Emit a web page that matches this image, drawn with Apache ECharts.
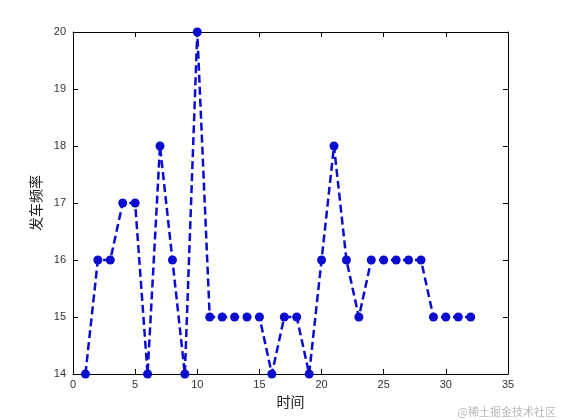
<!DOCTYPE html>
<html><head><meta charset="utf-8">
<script src="https://cdn.jsdelivr.net/npm/echarts@6/dist/echarts.min.js"></script>
<style>html,body{margin:0;padding:0;background:#fff}#c{width:561px;height:420px}</style>
</head><body><div id="c"></div>
<script>
const times = [1,2,3,4,5,6,7,8,9,10,11,12,13,14,15,16,17,18,19,20,21,22,23,24,25,26,27,28,29,30,31,32];
const freq = [14,16,16,17,17,14,18,16,14,20,15,15,15,15,15,14,15,15,14,16,18,16,15,16,16,16,16,16,15,15,15,15];
const xLabel = '时间';
const yLabel = '发车频率';
const watermark = '@稀土掘金技术社区';

const font = '"Liberation Sans", Arial, sans-serif';
const cjk = '"Noto Sans CJK SC", sans-serif';
const axisCommon = {
  axisLine:{show:true,onZero:false,lineStyle:{color:'#000',width:1}},
  axisTick:{show:true,inside:true,length:5,lineStyle:{color:'#000'}},
  splitLine:{show:false}
};
const chart = echarts.init(document.getElementById('c'));
chart.setOption({
  animation:false,
  backgroundColor:'#fff',
  grid:{left:73,right:53,top:32,bottom:46},
  xAxis:[
    Object.assign({type:'value',min:0,max:35,interval:5,position:'bottom',
      name:xLabel,nameLocation:'middle',nameGap:19,
      nameTextStyle:{fontFamily:cjk,fontSize:14,color:'#222'},
      axisLabel:{fontFamily:font,fontSize:11,color:'#333',margin:5}},axisCommon),
    Object.assign({type:'value',min:0,max:35,interval:5,position:'top',axisLabel:{show:false}},axisCommon)
  ],
  yAxis:[
    Object.assign({type:'value',min:14,max:20,interval:1,position:'left',
      name:yLabel,nameLocation:'middle',nameGap:21,nameRotate:90,
      nameTextStyle:{fontFamily:cjk,fontSize:14,color:'#222'},
      axisLabel:{fontFamily:font,fontSize:11,color:'#333',margin:7}},axisCommon),
    Object.assign({type:'value',min:14,max:20,interval:1,position:'right',axisLabel:{show:false}},axisCommon)
  ],
  series:[{
    type:'line',xAxisIndex:0,yAxisIndex:0,
    data:times.map((t,i)=>[t,freq[i]]),
    symbol:'circle',symbolSize:9,showSymbol:true,
    itemStyle:{color:'#0c0cd0'},
    lineStyle:{color:'#0c0cd0',width:2.5,type:[8,4]},
    clip:false
  }],
  graphic:[{type:'text',right:5,bottom:3,style:{text:watermark,fontFamily:cjk,fontSize:11,fill:'#b8b8b8'}}]
});
</script></body></html>
